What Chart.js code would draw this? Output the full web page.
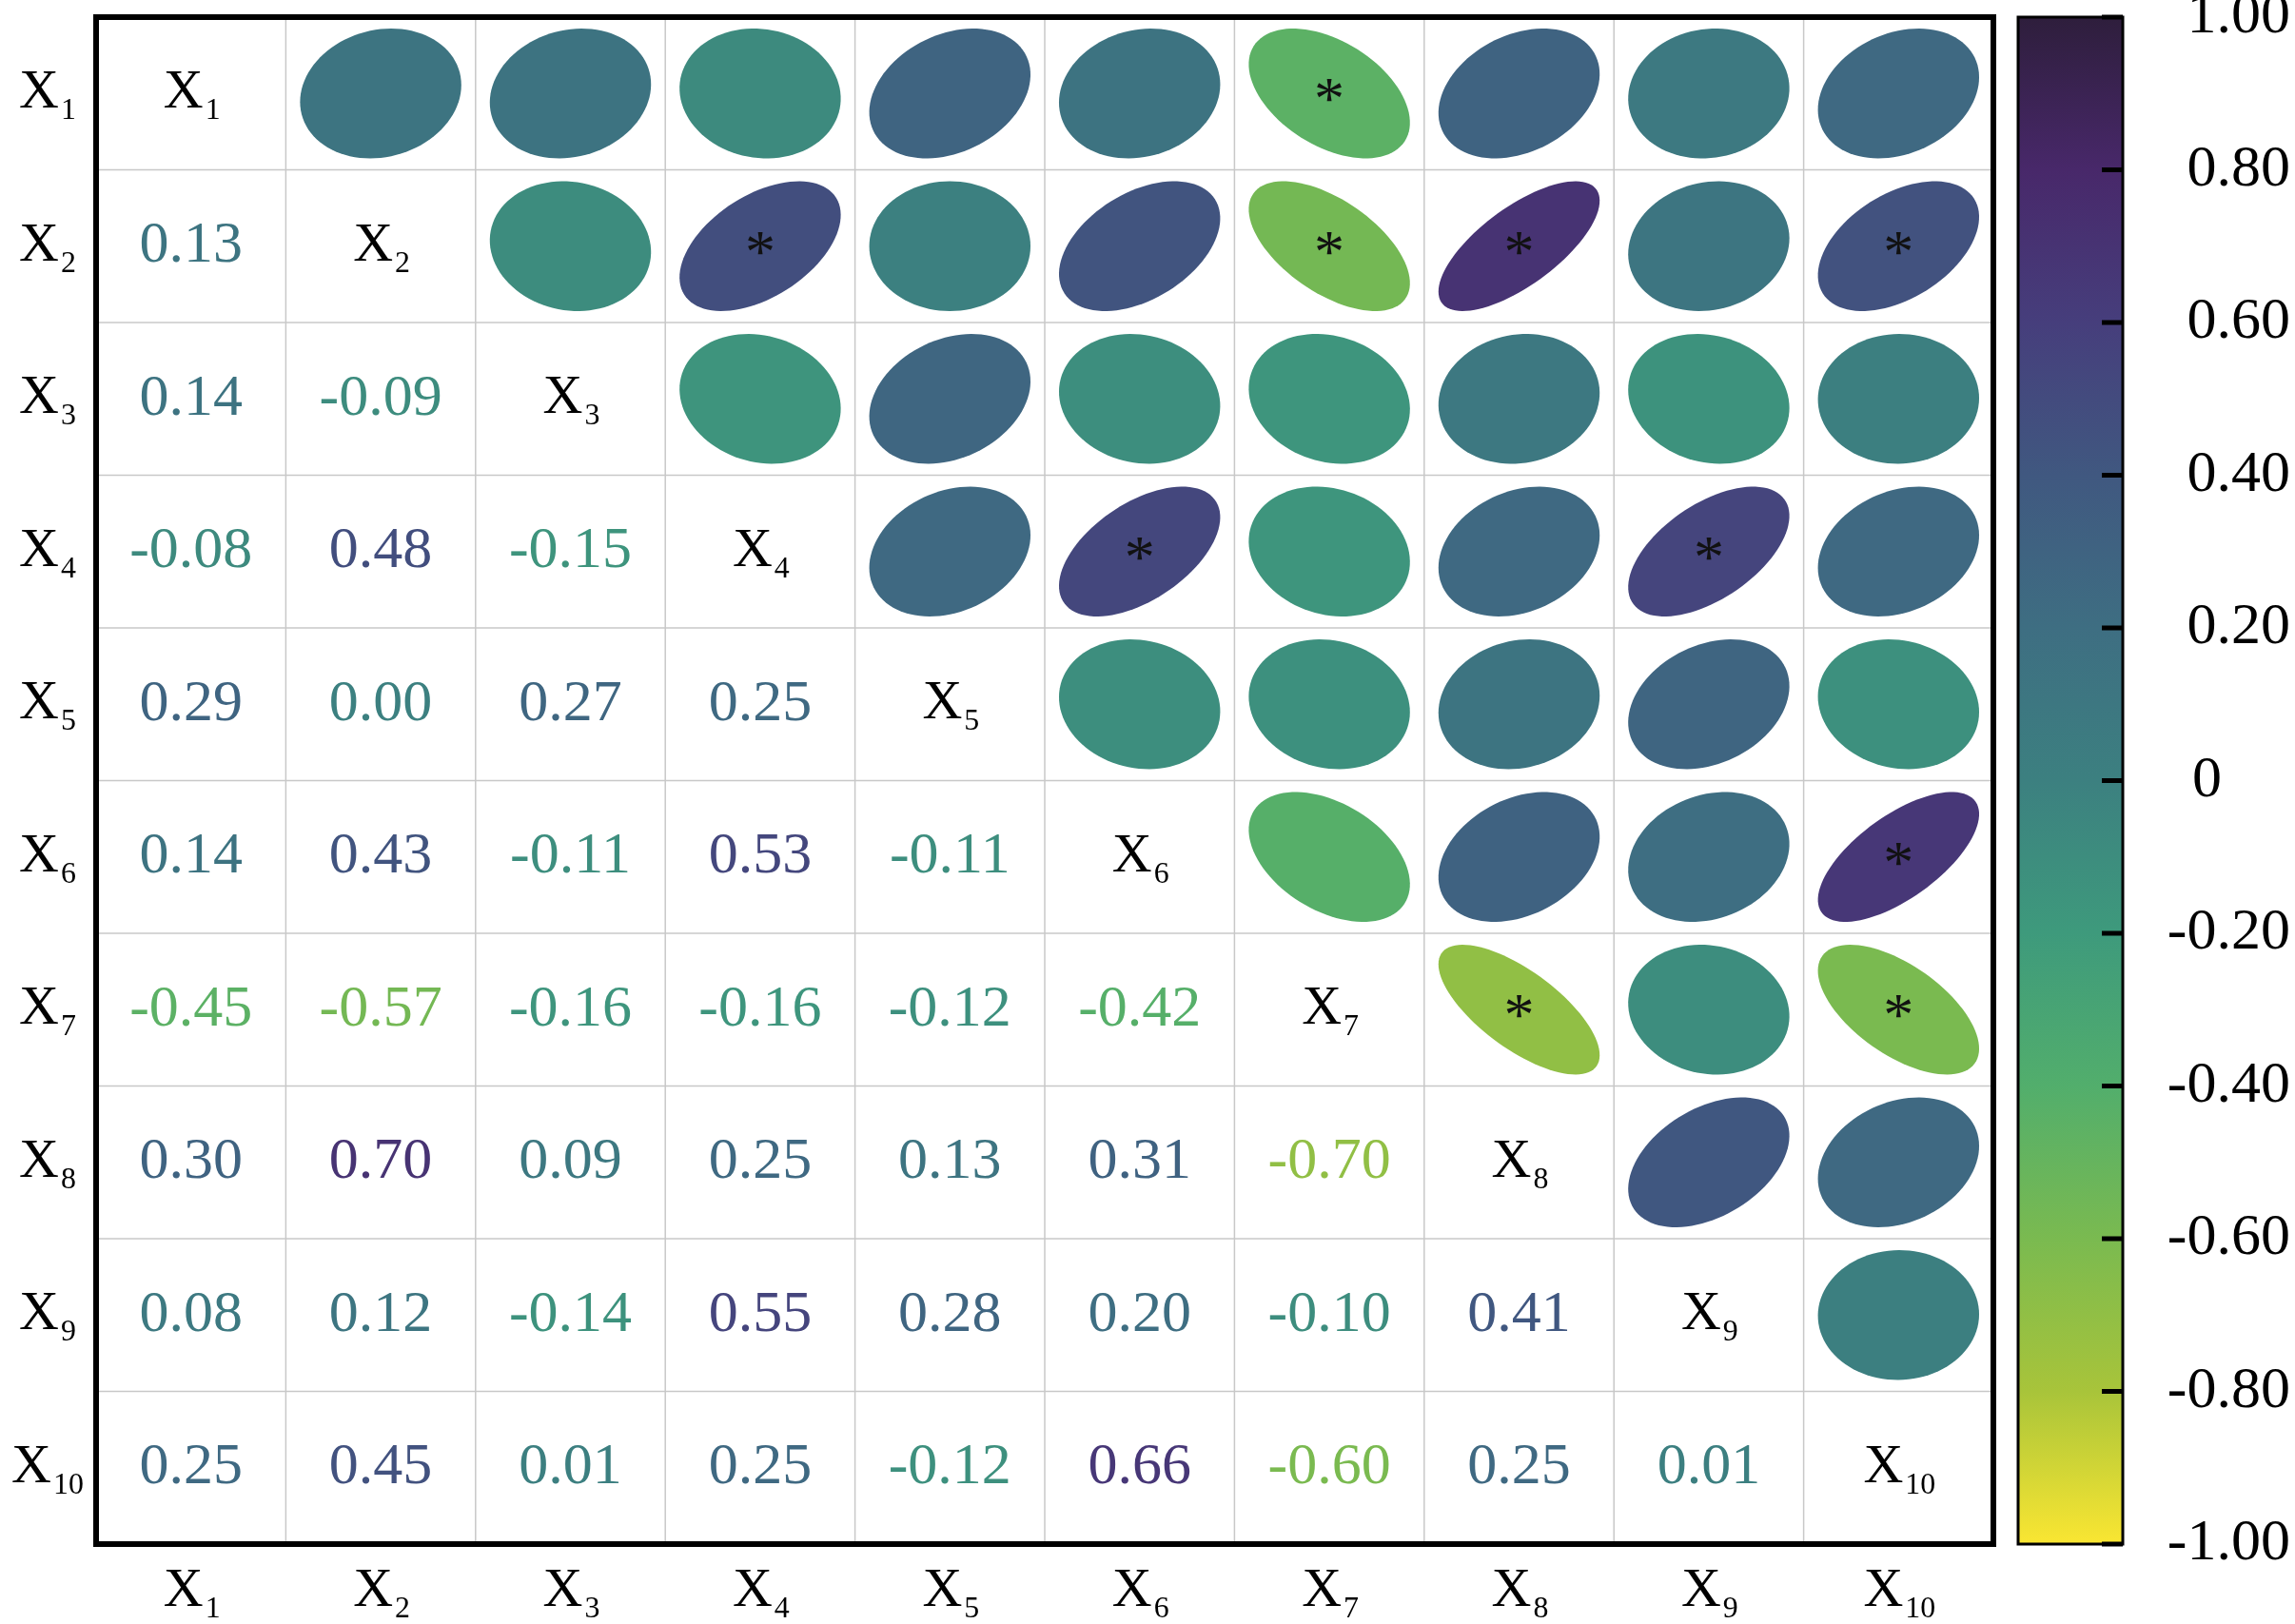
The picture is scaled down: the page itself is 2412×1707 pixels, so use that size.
<!DOCTYPE html>
<html><head><meta charset="utf-8">
<script src="https://cdn.jsdelivr.net/npm/chart.js@4/dist/chart.umd.min.js"></script>
<style>html,body{margin:0;padding:0;background:#fff}</style>
</head><body>
<canvas id="c" width="2412" height="1707"></canvas>
<script>
const variables = ['1','2','3','4','5','6','7','8','9','10'];
// lower-triangle correlations, row i (1-based) vs columns 1..i-1
const corrRows = [
  [],
  [0.13],
  [0.14,-0.09],
  [-0.08,0.48,-0.15],
  [0.29,0.00,0.27,0.25],
  [0.14,0.43,-0.11,0.53,-0.11],
  [-0.45,-0.57,-0.16,-0.16,-0.12,-0.42],
  [0.30,0.70,0.09,0.25,0.13,0.31,-0.70],
  [0.08,0.12,-0.14,0.55,0.28,0.20,-0.10,0.41],
  [0.25,0.45,0.01,0.25,-0.12,0.66,-0.60,0.25,0.01]
];
// significant pairs [row, col] (1-based, row>col)
const significant = [[7,1],[4,2],[7,2],[8,2],[10,2],[6,4],[9,4],[10,6],[8,7],[10,7]];
const colorbarTicks = [1,0.8,0.6,0.4,0.2,0,-0.2,-0.4,-0.6,-0.8,-1];

const stops = [
  [-1,[250,230,50]],[-0.8,[168,196,58]],[-0.6,[122,186,80]],[-0.4,[82,174,108]],
  [-0.2,[62,154,124]],[0,[60,128,128]],[0.2,[62,110,130]],[0.4,[64,88,128]],
  [0.6,[70,62,124]],[0.8,[72,40,106]],[1,[46,30,60]]];
function cmap(v){
  for(let i=0;i<stops.length-1;i++){
    const [a,ca]=stops[i],[b,cb]=stops[i+1];
    if(v<=b){const t=(v-a)/(b-a);return `rgb(${ca.map((c,k)=>Math.round(c+(cb[k]-c)*t)).join(',')})`;}
  }
  return 'rgb(46,30,60)';
}
const n = variables.length;
const cells = [];
for(let i=1;i<n;i++) for(let j=0;j<i;j++) cells.push({x:j+0.5,y:n-i-0.5,r:corrRows[i][j],row:i+1,col:j+1});
const isSig=(a,b)=>significant.some(p=>(p[0]===a&&p[1]===b)||(p[0]===b&&p[1]===a));
const FONT='"Liberation Serif", "DejaVu Serif", serif';

function drawX(ctx,label,cx,cy,size,color){
  ctx.fillStyle=color;
  ctx.font=`${size}px ${FONT}`;
  const w1=ctx.measureText('X').width;
  ctx.font=`${size*0.55}px ${FONT}`;
  const w2=ctx.measureText(label).width;
  const x0=cx-(w1+w2)/2;
  ctx.textAlign='left';ctx.textBaseline='middle';
  ctx.font=`${size}px ${FONT}`;ctx.fillText('X',x0,cy);
  ctx.font=`${size*0.55}px ${FONT}`;ctx.fillText(label,x0+w1+2,cy+size*0.32);
}

const plugin={id:'corr',afterDatasetsDraw(chart){
  const ctx=chart.ctx,xs=chart.scales.x,ys=chart.scales.y,cs=chart.scales.c;
  const ca=chart.chartArea;
  const cw=xs.getPixelForValue(1)-xs.getPixelForValue(0);
  const ch=ys.getPixelForValue(0)-ys.getPixelForValue(1);
  ctx.save();
  // grid
  ctx.strokeStyle='#c8c8c8';ctx.lineWidth=1.5;
  for(let k=1;k<n;k++){
    const px=xs.getPixelForValue(k),py=ys.getPixelForValue(k);
    ctx.beginPath();ctx.moveTo(px,ca.top);ctx.lineTo(px,ca.bottom);ctx.stroke();
    ctx.beginPath();ctx.moveTo(ca.left,py);ctx.lineTo(ca.right,py);ctx.stroke();
  }
  // lower values and upper ellipses
  cells.forEach(c=>{
    const col=cmap(c.r);
    const px=xs.getPixelForValue(c.x),py=ys.getPixelForValue(c.y);
    ctx.fillStyle=col;ctx.textAlign='center';ctx.textBaseline='middle';
    ctx.font=`62px ${FONT}`;
    ctx.fillText(c.r.toFixed(2),px,py);
    // mirrored ellipse
    const ex=xs.getPixelForValue(c.row-0.5),ey=ys.getPixelForValue(n-c.col+0.5);
    const a=Math.abs(c.r),R=0.425;
    const maj=R*Math.sqrt(1+a),mn=R*Math.sqrt(1-a);
    const ang=c.r>=0?Math.PI/4:-Math.PI/4;
    ctx.beginPath();
    for(let t=0;t<=96;t++){
      const th=t/96*2*Math.PI;
      const u=maj*Math.cos(th),v=mn*Math.sin(th);
      const X=u*Math.cos(ang)-v*Math.sin(ang),Y=u*Math.sin(ang)+v*Math.cos(ang);
      const qx=ex+X*cw*0.707*1.414, qy=ey-Y*ch;
      t===0?ctx.moveTo(qx,qy):ctx.lineTo(qx,qy);
    }
    ctx.closePath();ctx.fill();
    if(isSig(c.row,c.col)){
      ctx.fillStyle='#111';ctx.font=`64px ${FONT}`;ctx.textAlign='center';ctx.textBaseline='middle';
      ctx.fillText('*',ex,ey+10);
    }
  });
  // diagonal + axis labels
  for(let k=0;k<n;k++){
    const px=xs.getPixelForValue(k+0.5),py=ys.getPixelForValue(n-k-0.5);
    drawX(ctx,variables[k],px,py,58,'#000');
    drawX(ctx,variables[k],px,ca.bottom+50,58,'#000');
    drawX(ctx,variables[k],ca.left-52,py,58,'#000');
  }
  // border
  ctx.strokeStyle='#000';ctx.lineWidth=6;
  ctx.strokeRect(ca.left,ca.top,ca.right-ca.left,ca.bottom-ca.top);
  // colorbar
  const bx=2121,bw=110;
  const top=cs.getPixelForValue(1),bot=cs.getPixelForValue(-1);
  const g=ctx.createLinearGradient(0,top,0,bot);
  stops.forEach(s=>g.addColorStop((1-s[0])/2,cmap(s[0])));
  ctx.fillStyle=g;ctx.fillRect(bx,top,bw,bot-top);
  ctx.strokeStyle='#000';ctx.lineWidth=3;ctx.strokeRect(bx,top,bw,bot-top);
  ctx.lineWidth=5;ctx.fillStyle='#000';ctx.font=`62px ${FONT}`;ctx.textAlign='right';ctx.textBaseline='middle';
  colorbarTicks.forEach(v=>{
    const y=cs.getPixelForValue(v);
    ctx.beginPath();ctx.moveTo(bx+bw-22,y);ctx.lineTo(bx+bw,y);ctx.stroke();
    const lab=v===0?'0':v.toFixed(2);
    ctx.fillText(lab,v===0?2335:2407,y);
  });
  ctx.restore();
}};

new Chart(document.getElementById('c'),{
  type:'scatter',
  data:{datasets:[{data:cells.map(c=>({x:c.x,y:c.y})),pointRadius:0}]},
  options:{responsive:false,animation:false,devicePixelRatio:1,
    layout:{padding:{left:101,top:18,bottom:84,right:317}},
    plugins:{legend:{display:false},tooltip:{enabled:false}},
    scales:{
      x:{display:false,min:0,max:10},
      y:{display:false,min:0,max:10},
      c:{display:false,min:-1,max:1,position:'right'}
    }},
  plugins:[plugin]
});
</script>
</body></html>
